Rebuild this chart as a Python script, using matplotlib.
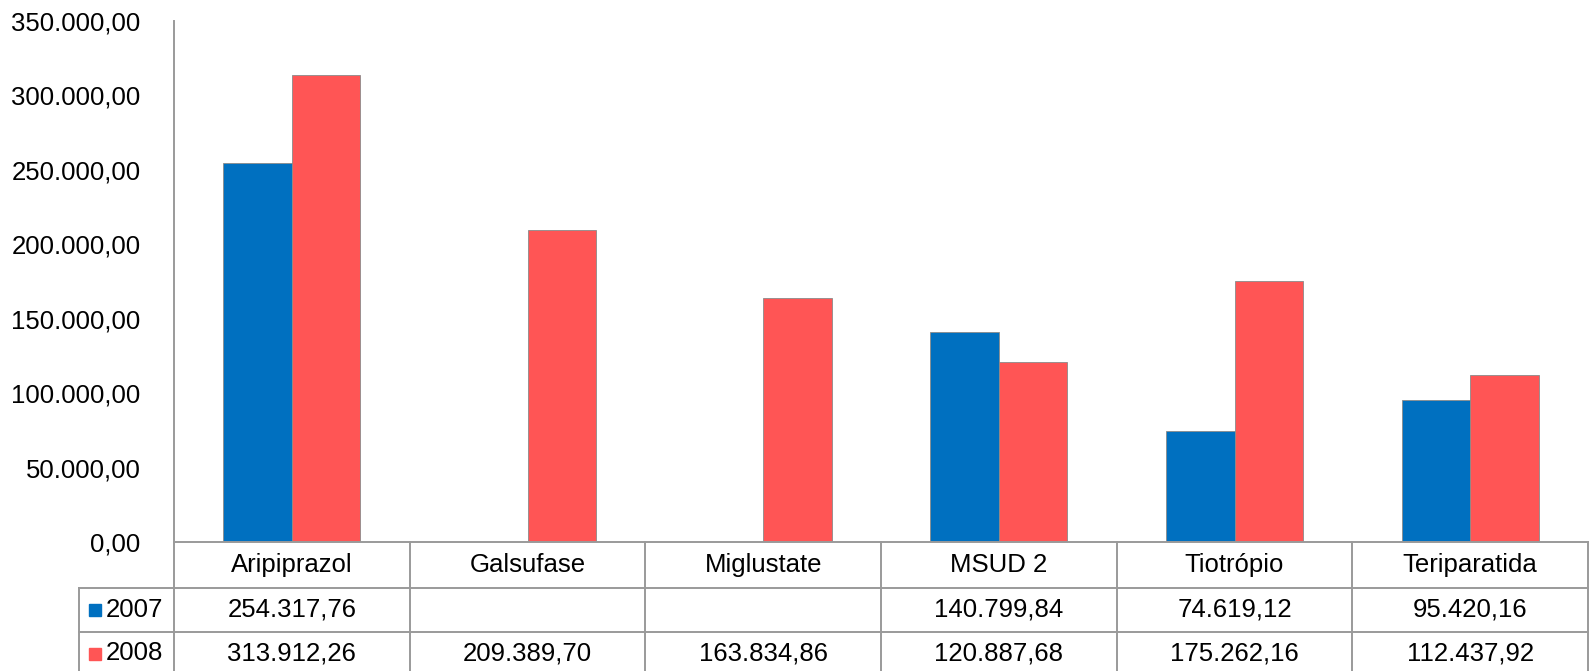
import numpy as np
import matplotlib
matplotlib.use("Agg")
import matplotlib.pyplot as plt
from matplotlib.transforms import blended_transform_factory

plt.rcParams['font.family'] = ['Liberation Sans', 'DejaVu Sans']

# data
drugs = ['Aripiprazol', 'Galsufase', 'Miglustate', 'MSUD 2', 'Tiotrópio', 'Teriparatida']
years = ['2007', '2008']
vals_2007 = [254317.76, np.nan, np.nan, 140799.84, 74619.12, 95420.16]
vals_2008 = [313912.26, 209389.70, 163834.86, 120887.68, 175262.16, 112437.92]
yticks = [0, 50000, 100000, 150000, 200000, 250000, 300000, 350000]

colors = ['#0070C0', '#FF5555']
grid_c = '#9a9a9a'
fs = 18.5


def br(v):
    # 1234567.8 -> 1.234.567,80
    if np.isnan(v):
        return ''
    s = f'{v:,.2f}'
    return s.replace(',', 'X').replace('.', ',').replace('X', '.')


W, H = 1589, 671
fig = plt.figure(figsize=(W / 100, H / 100), dpi=100)
x0, x1, ytop, ybot = 174, 1588, 21, 542
ax = fig.add_axes([x0 / W, (H - ybot) / H, (x1 - x0) / W, (ybot - ytop) / H])

x = np.arange(len(drugs))
bw = 0.29
for i, (yr, vals) in enumerate(zip(years, [vals_2007, vals_2008])):
    ax.bar(x + (i - 0.5) * bw, vals, bw, color=colors[i], edgecolor='#8a8a8a', linewidth=0.6, label=yr)

ax.set_xlim(-0.5, len(drugs) - 0.5)
ax.set_ylim(0, 350000)
ax.set_yticks(yticks)
ax.set_yticklabels([br(t) for t in yticks], fontsize=fs)
ax.tick_params(axis='y', length=0, pad=24)
ax.set_xticks([])
for s in ['top', 'right', 'bottom']:
    ax.spines[s].set_visible(False)
ax.spines['left'].set_color(grid_c)
ax.spines['left'].set_linewidth(1.4)

# data table under the axes (x in data units, y in axes fraction)
h = ybot - ytop
def fy(px):
    return (ybot - px) / h

tr = blended_transform_factory(ax.transData, ax.transAxes)
leg_left = (79 - x0) / ((x1 - x0) / len(drugs)) - 0.5
rows = [542, 588, 632, 675]
kw = dict(color=grid_c, lw=1.4, transform=tr, clip_on=False)

ax.plot([-0.5, len(drugs) - 0.5], [fy(rows[0])] * 2, **kw)
for r in rows[1:]:
    ax.plot([leg_left, len(drugs) - 0.5], [fy(r)] * 2, **kw)
for b in np.arange(len(drugs) + 1) - 0.5:
    ax.plot([b, b], [fy(rows[0]), fy(rows[-1])], **kw)
ax.plot([leg_left, leg_left], [fy(rows[1]), fy(rows[-1])], **kw)

for j, name in enumerate(drugs):
    ax.text(j, fy((rows[0] + rows[1]) / 2), name, ha='center', va='center', fontsize=fs, transform=tr)

for i, (yr, vals) in enumerate(zip(years, [vals_2007, vals_2008])):
    yc = fy((rows[i + 1] + rows[i + 2]) / 2)
    for j, v in enumerate(vals):
        ax.text(j, yc, br(v), ha='center', va='center', fontsize=fs, transform=tr)
    ax.plot([leg_left + 0.066], [yc], marker='s', ms=8.5, color=colors[i], transform=tr, clip_on=False)
    ax.text(leg_left + 0.115, yc, yr, ha='left', va='center', fontsize=fs, transform=tr)

fig.savefig('out.png', dpi=100)
